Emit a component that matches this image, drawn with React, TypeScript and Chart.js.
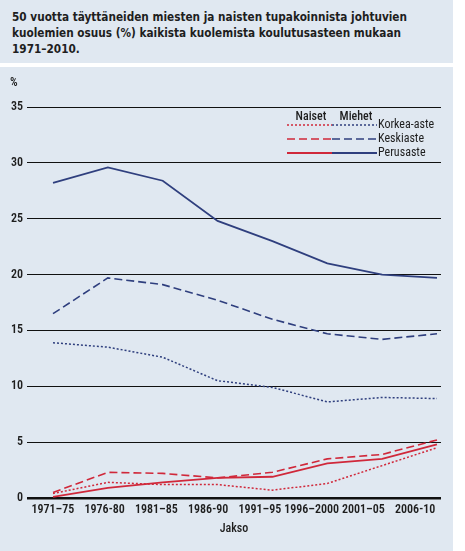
import React, { useEffect, useRef } from "react";
import { Chart, registerables } from "chart.js";
Chart.register(...registerables);

const periods = ["1971–75", "1976-80", "1981–85", "1986-90", "1991–95", "1996–2000", "2001–05", "2006-10"];
const yTicks = [0, 5, 10, 15, 20, 25, 30, 35];

const menPerusaste = [28.2, 29.6, 28.4, 24.8, 23.0, 21.0, 20.0, 19.7];
const menKeskiaste = [16.5, 19.7, 19.1, 17.7, 16.0, 14.7, 14.2, 14.7];
const menKorkea = [13.9, 13.5, 12.6, 10.5, 9.9, 8.6, 9.0, 8.9];
const womenPerusaste = [0.1, 0.9, 1.4, 1.8, 1.9, 3.1, 3.5, 4.8];
const womenKeskiaste = [0.5, 2.3, 2.2, 1.8, 2.3, 3.5, 3.9, 5.2];
const womenKorkea = [0.4, 1.4, 1.2, 1.2, 0.7, 1.3, 2.9, 4.5];

const titleLines = [
  "50 vuotta täyttäneiden miesten ja naisten tupakoinnista johtuvien",
  "kuolemien osuus (%) kaikista kuolemista koulutusasteen mukaan",
  "1971–2010.",
];
const legendHeaders = ["Naiset", "Miehet"];
const legendLabels = ["Korkea-aste", "Keskiaste", "Perusaste"];

const BG = "#e0e8f1";
const RED = "#d0283a";
const BLUE = "#2f3f7e";
const TEXT = "#1e1e1e";
const FONT = '"Roboto Condensed", "DejaVu Sans Condensed", sans-serif';
const TITLE_FONT = '"DejaVu Sans Condensed", "DejaVu Sans", sans-serif';

const DOT = [2, 2];
const DASH = [8, 4];

const toPts = (arr: number[]) => arr.map((v, i) => ({ x: i, y: v }));

const legendPlugin = {
  id: "customLegend",
  afterDraw(chart: any) {
    const ctx = chart.ctx as CanvasRenderingContext2D;
    ctx.save();
    ctx.fillStyle = TEXT;
    ctx.font = `600 12px ${FONT}`;
    ctx.textBaseline = "middle";
    ctx.textAlign = "left";
    ctx.fillText("%", 10, 16);

    ctx.font = `500 12px ${FONT}`;
    ctx.textAlign = "center";
    ctx.fillText(legendHeaders[0], 311, 50);
    ctx.fillText(legendHeaders[1], 356, 50);
    const rows = [58, 72, 86];
    const dashes = [DOT, DASH, []];
    rows.forEach((y, i) => {
      ctx.lineWidth = i === 2 ? 1.8 : 1.5;
      ctx.setLineDash(dashes[i]);
      ctx.strokeStyle = RED;
      ctx.beginPath();
      ctx.moveTo(287, y);
      ctx.lineTo(332, y);
      ctx.stroke();
      ctx.strokeStyle = BLUE;
      ctx.beginPath();
      ctx.moveTo(332, y);
      ctx.lineTo(377, y);
      ctx.stroke();
      ctx.setLineDash([]);
      ctx.textAlign = "left";
      ctx.font = `12px ${FONT}`;
      ctx.fillText(legendLabels[i], 378, y);
    });
    ctx.restore();
  },
};

function ChartPanel() {
  const ref = useRef<HTMLCanvasElement>(null);
  useEffect(() => {
    if (!ref.current) return;
    const mk = (label: string, data: number[], color: string, dash: number[], w: number) => ({
      label,
      data: toPts(data),
      borderColor: color,
      backgroundColor: color,
      borderDash: dash,
      borderWidth: w,
      pointRadius: 0,
      tension: 0,
      xAxisID: "xd",
      yAxisID: "y",
    });
    const tickFont = { family: FONT, size: 12, weight: "600" };
    const chart = new Chart(ref.current, {
      type: "line",
      data: {
        labels: periods,
        datasets: [
          mk("Miehet Perusaste", menPerusaste, BLUE, [], 1.8),
          mk("Miehet Keskiaste", menKeskiaste, BLUE, DASH, 1.6),
          mk("Miehet Korkea-aste", menKorkea, BLUE, DOT, 1.5),
          mk("Naiset Korkea-aste", womenKorkea, RED, DOT, 1.5),
          mk("Naiset Keskiaste", womenKeskiaste, RED, DASH, 1.6),
          mk("Naiset Perusaste", womenPerusaste, RED, [], 1.8),
        ] as any,
      },
      options: {
        animation: false,
        responsive: false,
        devicePixelRatio: 1,
        layout: { padding: { top: 40, right: 12, left: 0, bottom: 0 } },
        plugins: { legend: { display: false }, tooltip: { enabled: false } },
        scales: {
          xd: {
            type: "linear",
            display: false,
            min: -0.474,
            max: 7.073,
          },
          x: {
            type: "category",
            labels: periods,
            position: "bottom",
            offset: true,
            grid: { display: false, drawTicks: false },
            border: { display: false },
            ticks: {
              color: TEXT,
              font: tickFont,
              padding: 5,
              maxRotation: 0,
              autoSkip: false,
            },
            title: {
              display: true,
              text: "Jakso",
              color: TEXT,
              font: { family: FONT, size: 12, weight: "500" },
              padding: { top: 2, bottom: 15 },
            },
            afterFit: (s: any) => {
              s.height = 53;
            },
          },
          y: {
            type: "linear",
            min: 0,
            max: 35,
            afterBuildTicks: (s: any) => {
              s.ticks = yTicks.map((v) => ({ value: v }));
            },
            grid: {
              color: "#111",
              lineWidth: (c: any) => (c.tick && c.tick.value === 0 ? 2.5 : 1),
              drawTicks: false,
            },
            border: { display: false },
            ticks: {
              color: TEXT,
              font: tickFont,
              padding: 4,
            },
            afterFit: (s: any) => {
              s.width = 27;
            },
          },
        },
      },
      plugins: [legendPlugin],
    } as any);
    return () => chart.destroy();
  }, []);
  return <canvas ref={ref} width={453} height={484} style={{ display: "block", width: 453, height: 484 }} />;
}

export default function App() {
  return (
    <div style={{ position: "absolute", left: 0, top: 0, width: 465, height: 551, background: "#fff" }}>
      <div
        style={{
          position: "absolute",
          left: 0,
          top: 0,
          width: 453,
          height: 63,
          background: BG,
          boxSizing: "border-box",
          padding: "9px 0 0 12px",
          fontFamily: TITLE_FONT,
          fontStretch: "condensed",
          fontWeight: "bold",
          fontSize: 11.7,
          lineHeight: "16px",
          color: TEXT,
        }}
      >
        {titleLines.map((l, i) => (
          <div key={i} style={{ whiteSpace: "nowrap" }}>{l}</div>
        ))}
      </div>
      <div style={{ position: "absolute", left: 0, top: 67, width: 453, height: 484, background: BG }}>
        <ChartPanel />
      </div>
    </div>
  );
}
